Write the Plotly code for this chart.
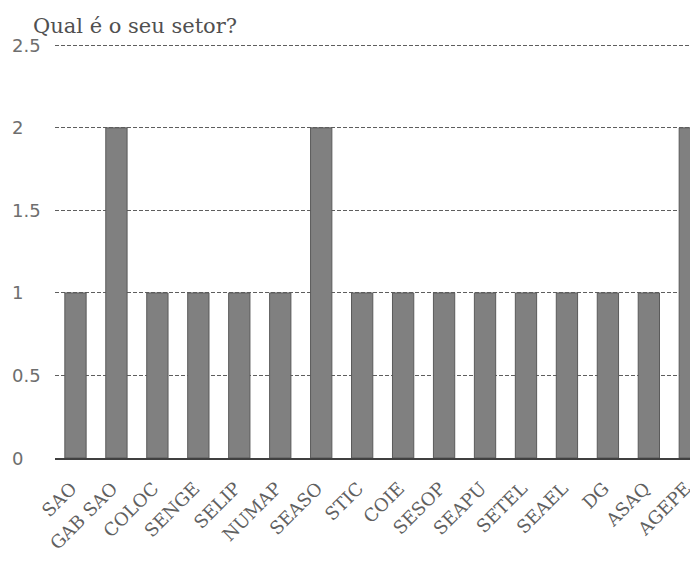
import plotly.graph_objects as go

categories = ["SAO", "GAB SAO", "COLOC", "SENGE", "SELIP", "NUMAP", "SEASO", "STIC",
              "COIE", "SESOP", "SEAPU", "SETEL", "SEAEL", "DG", "ASAQ", "AGEPE"]
values = [1, 2, 1, 1, 1, 1, 2, 1, 1, 1, 1, 1, 1, 1, 1, 2]
y_ticks = [0, 0.5, 1, 1.5, 2, 2.5]
y_tick_labels = ["0", "0.5", "1", "1.5", "2", "2.5"]
title_text = "Qual é o seu setor?"

W, H = 690, 553
L, R, T, B = 47, 0, 34, 103

fig = go.Figure()
fig.add_trace(go.Bar(
    x=categories, y=values,
    marker=dict(color="#808080", line=dict(color="#5a5a5a", width=1)),
    width=0.52,
))

# Left-aligned y tick labels (as in the reference), placed on the y scale
for v, t in zip(y_ticks, y_tick_labels):
    fig.add_annotation(
        x=(2 - L) / (W - L - R), xref="paper", xanchor="left",
        y=v, yref="y", yanchor="middle",
        text=t, showarrow=False,
        font=dict(family="DejaVu Sans, sans-serif", size=18, color="#6e6e6e"),
    )

fig.update_layout(
    width=W, height=H,
    margin=dict(l=L, r=R, t=T, b=B, autoexpand=False),
    paper_bgcolor="white", plot_bgcolor="white",
    showlegend=False,
    title=dict(text=title_text, x=25 / W, xanchor="left", y=1 - 18 / H, yanchor="middle",
               font=dict(family="DejaVu Serif, Liberation Serif, serif", size=21, color="#505050")),
    xaxis=dict(
        type="category", range=[-0.5, 15.2],
        tickangle=-45,
        tickfont=dict(family="DejaVu Serif, Liberation Serif, serif", size=18, color="#606060"),
        ticklabelstandoff=11, ticklabelshift=-4,
        showline=True, linecolor="#404040", linewidth=1.5,
        showgrid=False, ticks="", fixedrange=True,
    ),
    yaxis=dict(
        range=[0, 2.52], tickvals=y_ticks, showticklabels=False,
        showgrid=True, gridcolor="#5e5e5e", griddash="4px,2px", gridwidth=1.3,
        zeroline=False, showline=False, ticks="",
    ),
)

fig.write_html("out.html")
